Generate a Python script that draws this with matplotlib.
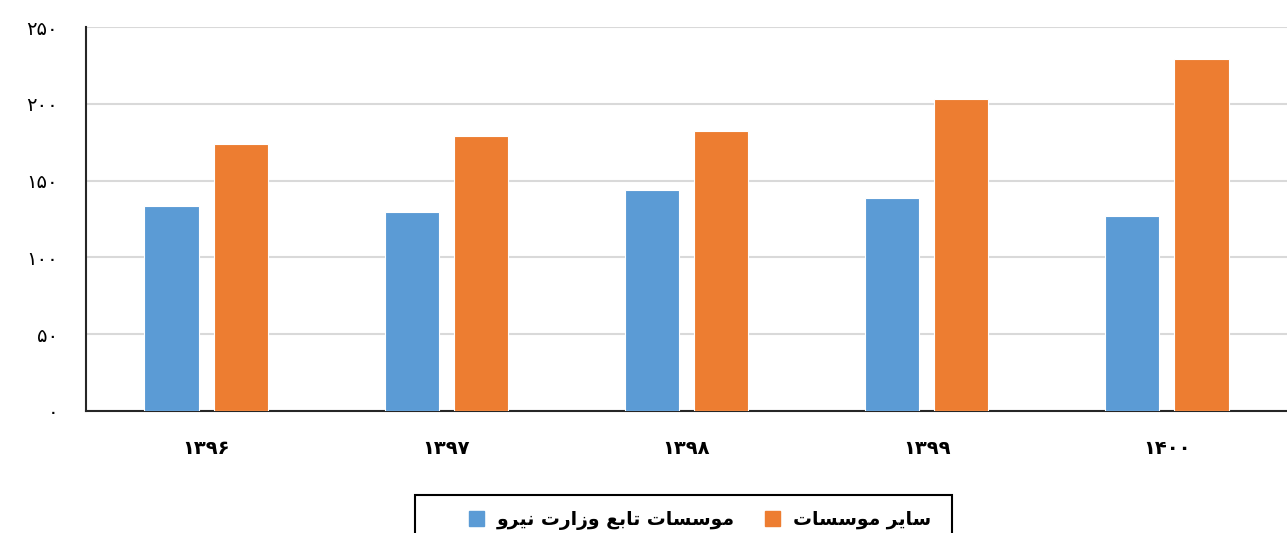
import matplotlib.pyplot as plt
import numpy as np
from matplotlib.patches import Patch, Rectangle

years = ['۱۳۹۶', '۱۳۹۷', '۱۳۹۸', '۱۳۹۹', '۱۴۰۰']
vezarat_niroo = [133.5, 129.6, 143.9, 138.7, 127.0]
sayer = [173.8, 179.0, 182.3, 203.1, 229.2]
y_ticks = [0, 50, 100, 150, 200, 250]
label_blue = 'موسسات تابع وزارت نیرو'
label_orange = 'سایر موسسات'

# minimal arabic shaping (matplotlib does no shaping / bidi)
FORMS = {
    'ا': ('\uFE8D', '\uFE8E', None, None),
    'ب': ('\uFE8F', '\uFE90', '\uFE91', '\uFE92'),
    'ت': ('\uFE95', '\uFE96', '\uFE97', '\uFE98'),
    'ر': ('\uFEAD', '\uFEAE', None, None),
    'ز': ('\uFEAF', '\uFEB0', None, None),
    'س': ('\uFEB1', '\uFEB2', '\uFEB3', '\uFEB4'),
    'ع': ('\uFEC9', '\uFECA', '\uFECB', '\uFECC'),
    'م': ('\uFEE1', '\uFEE2', '\uFEE3', '\uFEE4'),
    'ن': ('\uFEE5', '\uFEE6', '\uFEE7', '\uFEE8'),
    'و': ('\uFEED', '\uFEEE', None, None),
    'ی': ('\uFBFC', '\uFBFD', '\uFEF3', '\uFEF4'),
}

def dual(c):
    return c in FORMS and FORMS[c][2] is not None

def shape(s):
    out = []
    for i, c in enumerate(s):
        if c not in FORMS:
            out.append(c)
            continue
        prev = s[i - 1] if i > 0 else ''
        nxt = s[i + 1] if i + 1 < len(s) else ''
        jp = dual(prev)
        jn = dual(c) and nxt in FORMS
        iso, fin, ini, med = FORMS[c]
        if jp and jn:
            out.append(med)
        elif jp:
            out.append(fin)
        elif jn:
            out.append(ini)
        else:
            out.append(iso)
    return ''.join(out)[::-1]

fa_digits = str.maketrans('0123456789', '۰۱۲۳۴۵۶۷۸۹')

fig = plt.figure(figsize=(12.87, 5.33), dpi=100)
ax = fig.add_axes([0.0668, 0.2289, 0.9332, 0.7204])

x = np.arange(len(years))
w = 0.225
ax.bar(x - 0.144, vezarat_niroo, w, color='#5B9BD5', edgecolor='white', linewidth=0.8, zorder=3)
ax.bar(x + 0.144, sayer, w, color='#ED7D31', edgecolor='white', linewidth=0.8, zorder=3)

ax.set_xlim(-0.5, 4.5)
ax.set_ylim(0, 250)
ax.set_yticks(y_ticks)
ax.set_yticklabels([str(v).translate(fa_digits) for v in y_ticks], fontsize=14)
ax.set_xticks(x)
ax.set_xticklabels(years, fontsize=14, fontweight='bold')
ax.tick_params(axis='both', length=0)
ax.tick_params(axis='y', pad=20)
ax.tick_params(axis='x', pad=20)
ax.grid(axis='y', color='#D9D9D9', linewidth=1.5, zorder=0)
for s in ['top', 'right']:
    ax.spines[s].set_visible(False)
ax.spines['left'].set_color('#262626')
ax.spines['left'].set_linewidth(1.5)
ax.spines['bottom'].set_color('#262626')
ax.spines['bottom'].set_linewidth(1.5)

# legend box (cut by the bottom edge like the original)
W, H = 1287, 533
fig.patches.append(Rectangle((415 / W, -20 / H), 537 / W, 58 / H, transform=fig.transFigure,
                             fill=False, edgecolor='black', linewidth=1.5))
handles = [Patch(color='#5B9BD5', label=shape(label_blue)),
           Patch(color='#ED7D31', label=shape(label_orange))]
fig.legend(handles=handles, ncol=2, loc='center left',
           bbox_to_anchor=(469 / W, 13 / H),
           prop={'size': 13.5, 'weight': 'bold'},
           handlelength=0.8, handleheight=0.8, handletextpad=0.7,
           columnspacing=1.6, borderpad=0, borderaxespad=0, frameon=False)

plt.savefig('out.png', dpi=100)
